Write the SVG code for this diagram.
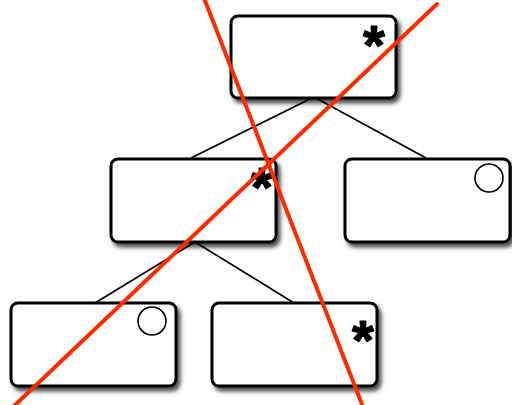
<svg xmlns="http://www.w3.org/2000/svg" width="512" height="405" viewBox="0 0 512 405">
  <defs>
    <filter id="shadow" x="-10%" y="-10%" width="130%" height="140%">
      <feDropShadow dx="3" dy="4" stdDeviation="2.2" flood-color="#000" flood-opacity="0.7"/>
    </filter>
  </defs>
  <style>
    .box { fill: #fff; stroke: #000; stroke-width: 3; filter: url(#shadow); }
    .edge { stroke: #000; stroke-width: 1.7; fill: none; }
    .mark { fill: none; stroke: #000; stroke-width: 1.6; }
    .star { font-family: "Liberation Sans", Arial, sans-serif; font-weight: bold; font-size: 56px; fill: #000; stroke: #000; stroke-width: 1.2; stroke-linejoin: round; text-anchor: middle; }
    .strike { stroke: #ff2a00; stroke-width: 4; stroke-linecap: round; fill: none; }
  </style>

  <rect width="512" height="405" fill="#fff"/>

  <!-- tree edges -->
  <g id="connectors">
    <polyline class="edge" points="191,158 314,97 426,158"/>
    <polyline class="edge" points="95,303 195,242 294,303"/>
  </g>

  <g id="root">
    <rect class="box" x="231" y="16" width="165" height="82" rx="7"/>
    <text class="star" x="374" y="64">*</text>
  </g>

  <g id="mid-left">
    <rect class="box" x="111" y="159" width="165" height="83" rx="7"/>
    <text class="star" x="262" y="206">*</text>
  </g>

  <g id="mid-right">
    <rect class="box" x="345" y="159" width="165" height="83" rx="7"/>
    <circle class="mark" cx="489" cy="178" r="14"/>
  </g>

  <g id="leaf-left">
    <rect class="box" x="11" y="303" width="165" height="83" rx="7"/>
    <circle class="mark" cx="152" cy="321" r="14"/>
  </g>

  <g id="leaf-right">
    <rect class="box" x="212" y="303" width="165" height="83" rx="7"/>
    <text class="star" x="363" y="359">*</text>
  </g>

  <!-- crossing-out strokes -->
  <g id="strikes">
    <line class="strike" x1="204" y1="-2" x2="363" y2="407"/>
    <line class="strike" x1="437" y1="4" x2="13" y2="407"/>
  </g>
</svg>
